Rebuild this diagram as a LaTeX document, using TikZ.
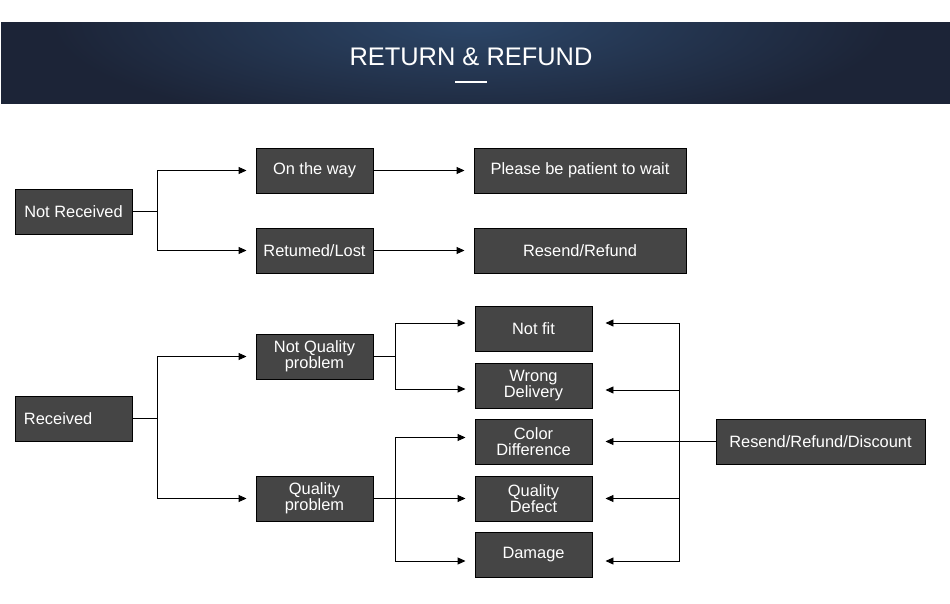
\documentclass[tikz,border=0pt]{standalone}
\usepackage{fontspec}
\setmainfont{Liberation Sans}
\usetikzlibrary{arrows.meta,positioning}
\definecolor{rfnavy}{RGB}{28,36,55}
\definecolor{rfglow}{RGB}{44,70,104}
\definecolor{rfbox}{RGB}{69,69,69}

\begin{document}
\begin{tikzpicture}[x=0.3mm, y=-0.3mm,
  stepbox/.style={draw=black, line width=0.8pt, fill=rfbox, text=white,
    font=\fontsize{14}{13.5}\selectfont, minimum width=35.1mm,
    minimum height=13.5mm, inner sep=1pt, align=center},
  widebox/.style={stepbox, minimum width=63.6mm},
  link/.style={line width=0.8pt, black},
  arr/.style={link, -{Triangle[length=2.4mm, width=2.1mm]}, shorten >=2.7mm}]
\useasboundingbox (0,0) rectangle (950,604);
\fill[white] (0,0) rectangle (950,604);
% Header
\fill[rfnavy] (1,22) rectangle (950,104);
\begin{scope}
  \clip (1,23) rectangle (950,104);
  \shade[inner color=rfglow, outer color=rfnavy] (471,22) ellipse [x radius=420, y radius=110];
\end{scope}
\fill[white] (0,0) rectangle (950,22);
\node[text=white, font=\fontsize{21.7}{21.7}\selectfont] (title) at (471,57) {RETURN \& REFUND};
\draw[white, line width=1.2pt] (455,82) -- (487,82);
% Not received branch
\node[stepbox] (notrec) at (73.5,211.5) {Not Received};
\node[stepbox] (onway) at (314.5,170.5) {On the way};
\node[stepbox] (retlost) at (314.5,250.5) {Retumed/Lost};
\node[widebox] (patient) at (580,170.5) {Please be patient to wait};
\node[widebox] (resref) at (580,250.5) {Resend/Refund};
\draw[link] (notrec.east) -- ++(25,0) coordinate (nrfork);
\draw[arr] (nrfork) |- (onway.west);
\draw[arr] (nrfork) |- (retlost.west);
\draw[arr] (onway) -- (patient);
\draw[arr] (retlost) -- (resref);
% Received branch
\node[stepbox, text width=29.7mm, align=left] (rec) at (73.5,418.5) {Received};
\node[stepbox] (notqual) at (314.5,356.5) {Not Quality\\problem};
\node[stepbox] (qual) at (314.5,498.5) {Quality\\problem};
\draw[link] (rec.east) -- ++(25,0) coordinate (recfork);
\draw[arr] (recfork) |- (notqual.west);
\draw[arr] (recfork) |- (qual.west);
% Problem types
\node[stepbox] (notfit) at (533.5,328.5) {Not fit};
\node[stepbox] (wrong) at (533.5,385.5) {Wrong\\Delivery};
\node[stepbox] (color) at (533.5,441.5) {Color\\Difference};
\node[stepbox] (defect) at (533.5,498.5) {Quality\\Defect};
\node[stepbox] (damage) at (533.5,554.5) {Damage};
\draw[link] (notqual.east) -- ++(22,0) coordinate (nqfork);
\draw[arr] (nqfork) |- ([yshift=1.65mm]notfit.west);
\draw[arr] (nqfork) |- ([yshift=-1.05mm]wrong.west);
\draw[link] (qual.east) -- ++(22,0) coordinate (qfork);
\draw[arr] (qfork) |- ([yshift=1.2mm]color.west);
\draw[arr] (qual) -- (defect);
\draw[arr] (qfork) |- ([yshift=-1.95mm]damage.west);
% Solution
\node[stepbox, minimum width=62.7mm] (rrd) at (820.5,441.5) {Resend/Refund/Discount};
\draw[link] (rrd.west) -- ++(-36,0) coordinate (rrdfork);
\draw[arr, shorten >=3.9mm] (rrdfork) |- ([yshift=1.65mm]notfit.east);
\draw[arr, shorten >=3.9mm] (rrdfork) |- ([yshift=-1.35mm]wrong.east);
\draw[arr, shorten >=3.9mm] (rrdfork) -- (color.east);
\draw[arr, shorten >=3.9mm] (rrdfork) |- (defect.east);
\draw[arr, shorten >=3.9mm] (rrdfork) |- ([yshift=-1.95mm]damage.east);
\end{tikzpicture}
\end{document}
